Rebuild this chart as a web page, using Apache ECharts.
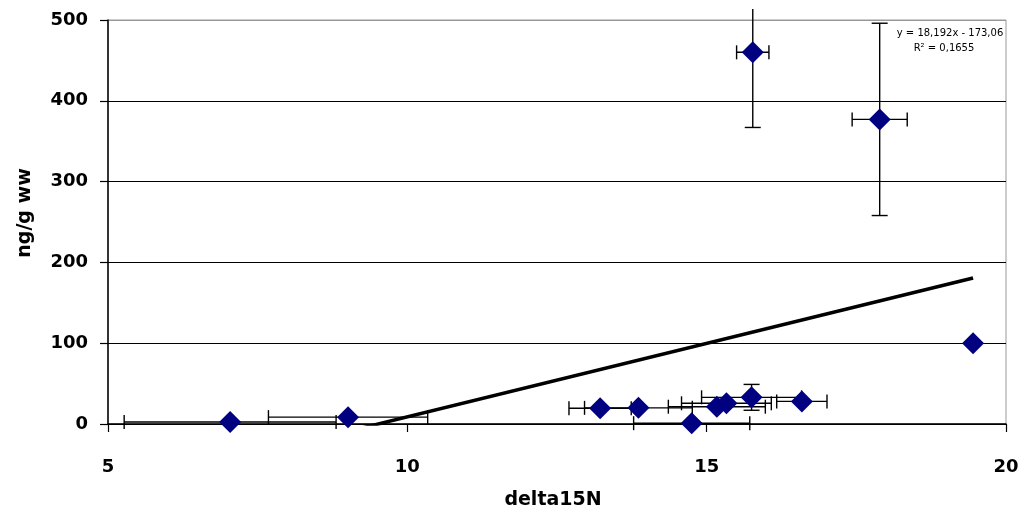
<!DOCTYPE html>
<html>
<head>
<meta charset="utf-8">
<script src="https://cdn.jsdelivr.net/npm/echarts@6/dist/echarts.min.js"></script>
<style>
  html, body { margin: 0; padding: 0; background: #fff; }
  #chart { width: 1028px; height: 519px; }
</style>
</head>
<body>
<div id="chart"></div>
<script>
// delta15N (x) against concentration in ng/g wet weight (y), with +/- error
const delta15N      = [7.04, 9.01, 13.22, 13.86, 14.75, 15.17, 15.33, 15.75, 16.59, 15.77, 17.89, 19.45];
const ngPerGww      = [2.5,  8.5,  19.5,  20,    1,     21.4,  25.6,  33,    28,    460,   377,   100];
const delta15NErr   = [1.77, 1.33, 0.52,  0.9,   0.97,  0.81,  0.75,  0.835, 0.42,  0.27,  0.46,  0];
const ngPerGwwErr   = [0,    0,    0,     0,     0,     0,     0,     16,    0,     93,    119,   0];

// linear trend line fitted to the points
const trendSlope = 18.192;
const trendIntercept = -173.06;
const trendText = ['y = 18,192x - 173,06', 'R\u00b2 = 0,1655'];

// axis ranges
const xRange = { min: 5, max: 20, interval: 5 };
const yRange = { min: 0, max: 500, interval: 100 };

const FONT = 'DejaVu Sans';

const trendXs = [Math.min(...delta15N), Math.max(...delta15N)];
const trendData = trendXs.map(x => [x, trendSlope * x + trendIntercept]);

const errorData = delta15N.map((x, i) => [x, ngPerGww[i], delta15NErr[i], ngPerGwwErr[i]]);
const pointData = delta15N.map((x, i) => [x, ngPerGww[i]]);

function renderErrorBars(params, api) {
  const x = api.value(0), y = api.value(1), ex = api.value(2), ey = api.value(3);
  const c = api.coord([x, y]);
  const style = { stroke: '#000', lineWidth: 1.4 };
  const kids = [];
  const seg = (x1, y1, x2, y2) => kids.push({ type: 'line', shape: { x1, y1, x2, y2 }, style });
  if (ex > 0) {
    const l = api.coord([x - ex, y])[0], r = api.coord([x + ex, y])[0];
    seg(l, c[1], r, c[1]);
    seg(l, c[1] - 7, l, c[1] + 7);
    seg(r, c[1] - 7, r, c[1] + 7);
  }
  if (ey > 0) {
    const lo = api.coord([x, y - ey])[1];
    let hi = api.coord([x, y + ey])[1];
    const ceiling = params.coordSys.y - 11;
    let capTop = true;
    if (hi < ceiling) { hi = ceiling; capTop = false; }
    seg(c[0], lo, c[0], hi);
    seg(c[0] - 8, lo, c[0] + 8, lo);
    if (capTop) seg(c[0] - 8, hi, c[0] + 8, hi);
  }
  return { type: 'group', children: kids };
}

const chart = echarts.init(document.getElementById('chart'), null, { renderer: 'canvas' });
chart.setOption({
  animation: false,
  backgroundColor: '#fff',
  grid: { left: 108, right: 22, top: 20, bottom: 95, show: true, borderColor: '#999', borderWidth: 1 },
  xAxis: {
    type: 'value', min: xRange.min, max: xRange.max, interval: xRange.interval,
    axisLine: { show: true, onZero: false, lineStyle: { color: '#000', width: 1.5 } },
    axisTick: { show: true, inside: false, length: 8, lineStyle: { color: '#000', width: 1.2 } },
    axisLabel: { margin: 34, color: '#000', fontFamily: FONT, fontWeight: 'bold', fontSize: 18 },
    splitLine: { show: false }
  },
  yAxis: {
    type: 'value', min: yRange.min, max: yRange.max, interval: yRange.interval,
    axisLine: { show: true, lineStyle: { color: '#000', width: 1.5 } },
    axisTick: { show: true, inside: false, length: 8, lineStyle: { color: '#000', width: 1.2 } },
    axisLabel: { margin: 20, color: '#000', fontFamily: FONT, fontWeight: 'bold', fontSize: 18 },
    splitLine: { show: true, lineStyle: { color: ['#000', '#000', '#000', '#000', '#000', '#999'], width: 1 } }
  },
  graphic: [
    {
      type: 'text', x: 553, y: 500,
      style: { text: 'delta15N', fill: '#000', font: 'bold 19px "DejaVu Sans"', align: 'center', verticalAlign: 'middle' }
    },
    {
      type: 'text', x: 25, y: 213, rotation: Math.PI / 2,
      style: { text: 'ng/g ww', fill: '#000', font: 'bold 19px "DejaVu Sans"', align: 'center', verticalAlign: 'middle' }
    },
    {
      type: 'text', x: 950, y: 33,
      style: { text: trendText[0], fill: '#000', font: '10px "DejaVu Sans"', align: 'center', verticalAlign: 'middle' }
    },
    {
      type: 'text', x: 944, y: 48,
      style: { text: trendText[1], fill: '#000', font: '10px "DejaVu Sans"', align: 'center', verticalAlign: 'middle' }
    }
  ],
  series: [
    {
      type: 'line', data: trendData, showSymbol: false, clip: true, z: 2,
      lineStyle: { color: '#000', width: 3.5 }, silent: true
    },
    {
      type: 'custom', data: errorData, renderItem: renderErrorBars, z: 3,
      encode: { x: 0, y: 1 }, clip: false, silent: true
    },
    {
      type: 'scatter', data: pointData, symbol: 'diamond', symbolSize: [22, 22], z: 4,
      itemStyle: { color: '#000080', opacity: 1 }
    }
  ]
});
</script>
</body>
</html>
